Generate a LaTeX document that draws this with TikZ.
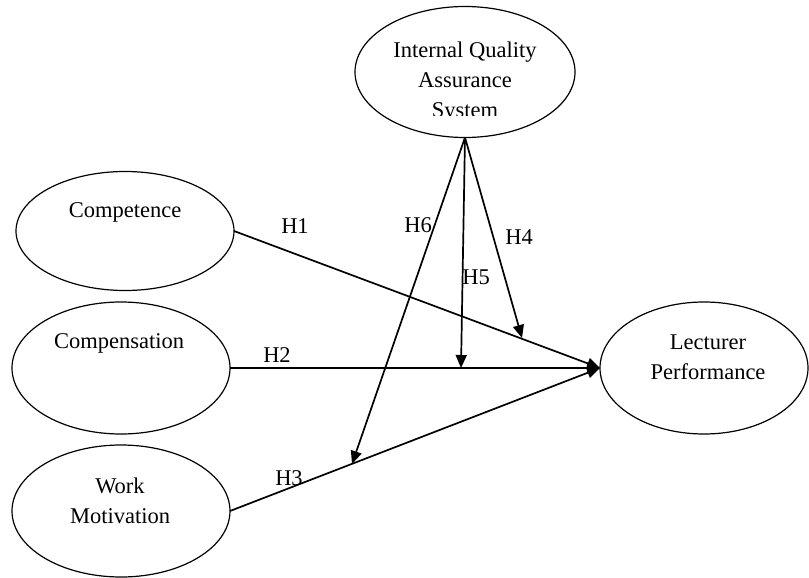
\documentclass[tikz,border=0pt]{standalone}
\usepackage{fontspec}
\setmainfont{Liberation Serif}
\usetikzlibrary{shapes.geometric,arrows.meta}
\begin{document}
\begin{tikzpicture}[x=1pt,y=-1pt,
    oval/.style={draw, ellipse, line width=1.2pt, inner sep=0pt, outer sep=0pt},
    link/.style={-{Triangle[length=13pt,width=11pt]}, line width=1.7pt},
    txt/.style={font=\fontsize{22.5}{30}\selectfont, align=center}]
    \useasboundingbox (0,0) rectangle (809,578);

    % Constructs
    \node[oval, minimum width=220pt, minimum height=131pt] (iqas) at (465,72) {};
    \node[oval, minimum width=218pt, minimum height=119pt] (comp) at (125,231) {};
    \node[oval, minimum width=218pt, minimum height=132pt] (compen) at (121,368) {};
    \node[oval, minimum width=218pt, minimum height=132pt] (work) at (121,511) {};
    \node[oval, minimum width=208pt, minimum height=132pt] (lect) at (704,368) {};

    % Construct names
    \begin{scope}
    \clip (340,0) rectangle (600,115);
    \node[txt] (iqastxt) at (465,82) {Internal Quality\\Assurance\\System};
    \end{scope}
    \node[txt] (comptxt) at (125,212) {Competence};
    \node[txt] (compentxt) at (119,343) {Compensation};
    \node[txt] (worktxt) at (120,501) {Work\\Motivation};
    \node[txt] (lecttxt) at (708,357) {Lecturer\\Performance};

    % Direct effects
    \draw[link] (comp.east) -- (lect.west);
    \draw[link] (compen.east) -- (lect.west);
    \draw[link] (work.east) -- (lect.west);

    % Moderating effects
    \coordinate (m4) at (522,338);
    \coordinate (m5) at (461,368);
    \coordinate (m6) at (352,464);
    \draw[link] (iqas.south) -- (m4);
    \draw[link] (iqas.south) -- (m5);
    \draw[link] (iqas.south) -- (m6);

    % Hypotheses
    \node[txt] (h1) at (295,226) {H1};
    \node[txt] (h2) at (277,355) {H2};
    \node[txt] (h3) at (289,478) {H3};
    \node[txt] (h4) at (519,237) {H4};
    \node[txt] (h5) at (476,277) {H5};
    \node[txt] (h6) at (418,225) {H6};
\end{tikzpicture}
\end{document}
